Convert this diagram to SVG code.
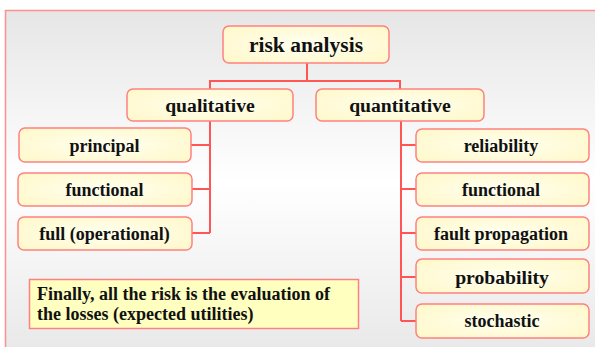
<svg xmlns="http://www.w3.org/2000/svg" width="595" height="347" viewBox="0 0 595 347">
<defs>
<linearGradient id="bg" x1="0" y1="0" x2="0" y2="1">
<stop offset="0" stop-color="#e6e6e6"/>
<stop offset="0.5" stop-color="#ffffff"/>
<stop offset="1" stop-color="#e8e8e8"/>
</linearGradient>
<radialGradient id="box" cx="0.5" cy="0.5" r="0.7">
<stop offset="0" stop-color="#fffff0"/>
<stop offset="1" stop-color="#fff8c8"/>
</radialGradient>
<style>
.node rect{fill:url(#box);stroke:#ff8080;stroke-width:1.5}
.node text{text-anchor:middle}
.conn path{fill:none;stroke:#ff5555;stroke-width:2}
</style>
</defs>
<rect x="5.5" y="10.5" width="595" height="345" fill="url(#bg)" stroke="#ff9090" stroke-width="1.5"/>
<g class="conn">
<path d="M307 63V81M210 89V81H400V89"/>
<path d="M210 121V233M191 145H210M192 189H210M192 233H210"/>
<path d="M401 121V321M401 145H416M401 189H416M401 233H416M401 277H416M401 321H416"/>
</g>
<g font-family="Liberation Serif, serif" font-weight="bold" fill="#111">
<g id="risk-analysis" class="node"><rect x="223" y="26" width="166" height="37" rx="6"/><text x="306" y="52" font-size="21.5">risk analysis</text></g>
<g id="qualitative" class="node"><rect x="127" y="89" width="166" height="32" rx="6"/><text x="210" y="112" font-size="19.7">qualitative</text></g>
<g id="quantitative" class="node"><rect x="316" y="89" width="168" height="32" rx="6"/><text x="400" y="112" font-size="19.7">quantitative</text></g>
<g id="principal" class="node"><rect x="19" y="128" width="172" height="34" rx="6"/><text x="104.5" y="151.5" font-size="18">principal</text></g>
<g id="functional-l" class="node"><rect x="18" y="173" width="174" height="33" rx="6"/><text x="104.5" y="196" font-size="18">functional</text></g>
<g id="full" class="node"><rect x="18" y="217" width="174" height="33" rx="6"/><text x="104.5" y="240" font-size="18">full (operational)</text></g>
<g id="reliability" class="node"><rect x="416" y="129" width="173" height="33" rx="6"/><text x="501" y="151.5" font-size="18">reliability</text></g>
<g id="functional-r" class="node"><rect x="416" y="173" width="173" height="33" rx="6"/><text x="501" y="196" font-size="18">functional</text></g>
<g id="fault-propagation" class="node"><rect x="416" y="217" width="173" height="33" rx="6"/><text x="501" y="239.5" font-size="18">fault propagation</text></g>
<g id="probability" class="node"><rect x="416" y="259" width="173" height="34" rx="6"/><text x="502" y="283.5" font-size="19.7">probability</text></g>
<g id="stochastic" class="node"><rect x="416" y="304" width="173" height="34" rx="6"/><text x="502" y="326.5" font-size="18">stochastic</text></g>
<g id="note">
<rect x="29.5" y="279.5" width="329" height="49" fill="#ffffc0" stroke="#ff8080" stroke-width="1.5"/>
<text font-size="18"><tspan x="37" y="299.5">Finally, all the risk is the evaluation of</tspan><tspan x="37" y="320">the losses (expected utilities)</tspan></text>
</g>
</g>
</svg>
